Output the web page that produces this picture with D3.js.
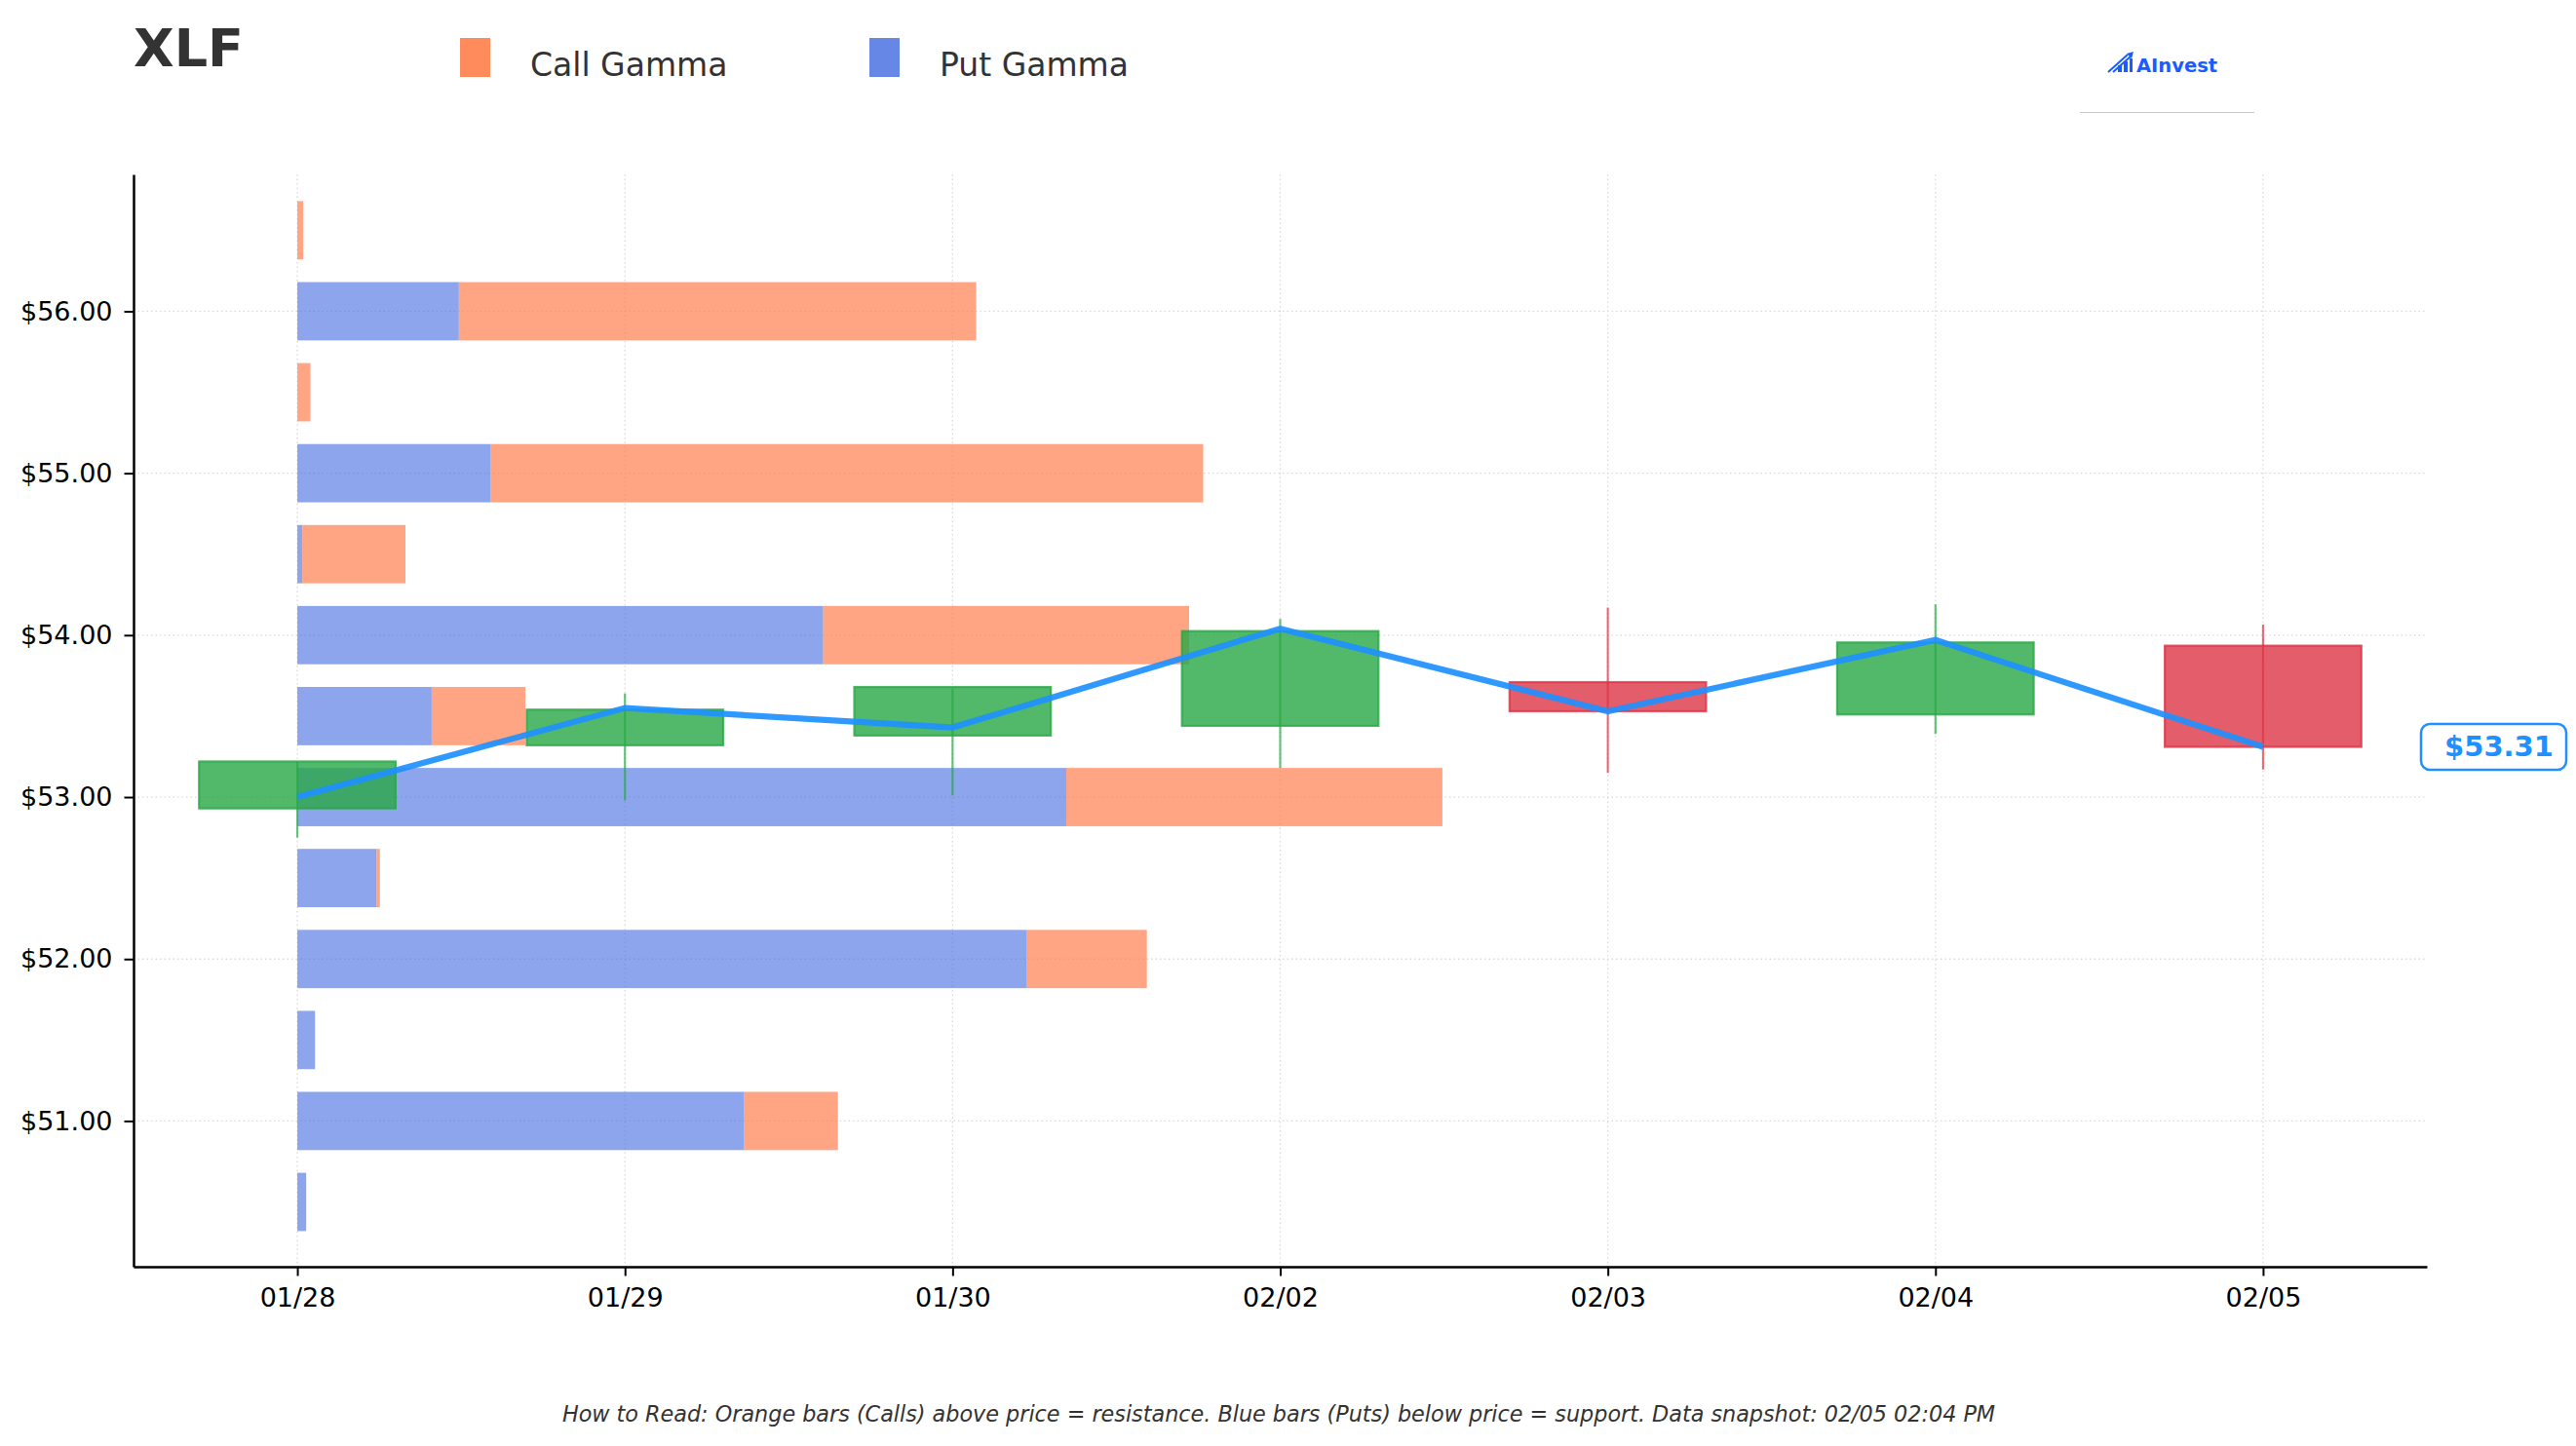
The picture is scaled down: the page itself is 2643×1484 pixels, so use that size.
<!DOCTYPE html>
<html>
<head>
<meta charset="utf-8">
<script src="https://cdn.jsdelivr.net/npm/d3@7"></script>
<style>
  html, body { margin: 0; padding: 0; background: #fff; }
  svg { display: block; font-family: "DejaVu Sans", sans-serif; }
</style>
</head>
<body>
<svg id="chart" width="2643" height="1484"></svg>
<script>
// ---------- data ----------
const ticker = "XLF";
const dates = ["01/28", "01/29", "01/30", "02/02", "02/03", "02/04", "02/05"];
const openP  = [52.93, 53.32, 53.38, 53.44, 53.71, 53.51, 53.935];
const closeP = [53.22, 53.54, 53.68, 54.025, 53.53, 53.955, 53.31];
const highP  = [53.22, 53.64, 53.67, 54.10, 54.17, 54.19, 54.065];
const lowP   = [52.75, 52.98, 53.01, 53.18, 53.15, 53.39, 53.17];
const priceLine = [53.00, 53.55, 53.43, 54.04, 53.53, 53.97, 53.31];
const currentPrice = 53.31;

const strikes   = [56.5, 56.0, 55.5, 55.0, 54.5, 54.0, 53.5, 53.0, 52.5, 52.0, 51.5, 51.0, 50.5];
const putGamma  = [0, 49.3, 0, 58.9, 1.5, 160.5, 41.0, 234.7, 24.2, 222.7, 5.4, 136.4, 2.7];
const callGamma = [1.8, 157.9, 4.0, 217.6, 31.5, 111.7, 28.6, 114.8, 1.0, 36.6, 0, 28.6, 0];

const yTicks = [51, 52, 53, 54, 55, 56];
const legendLabels = ["Call Gamma", "Put Gamma"];
const footer = "How to Read: Orange bars (Calls) above price = resistance. Blue bars (Puts) below price = support. Data snapshot: 02/05 02:04 PM";

(function () {
// ---------- layout ----------
const svg = d3.select("#chart");
const pl = 137, pr = 2490, pt = 179, pb = 1300;

const x = d3.scaleLinear().domain([-0.5, dates.length - 0.5]).range([pl, pr]);
const y = d3.scaleLinear().domain([50.10, 56.845]).range([pb, pt]);
const g2x = d3.scaleLinear().domain([0, 100]).range([0, 1]); // gamma -> day-index units
const barHalf = 0.18;

const callCol = "#FF7F50", putCol = "#4169E1";
const upCol = "#28a745", downCol = "#dc3545", lineCol = "#1E90FF";

// grid
const grid = svg.append("g");
grid.selectAll("line.gx").data(dates).join("line")
  .attr("x1", (d, i) => x(i)).attr("x2", (d, i) => x(i))
  .attr("y1", pt).attr("y2", pb)
  .attr("stroke", "#d9d9d9").attr("stroke-width", 1.3).attr("stroke-dasharray", "1.5,3");
grid.selectAll("line.gy").data(yTicks).join("line")
  .attr("x1", pl).attr("x2", pr)
  .attr("y1", d => y(d)).attr("y2", d => y(d))
  .attr("stroke", "#d9d9d9").attr("stroke-width", 1.3).attr("stroke-dasharray", "1.5,3");

// gamma bars
const bars = svg.append("g");
const x0 = x(0);
bars.selectAll("rect.put").data(strikes).join("rect")
  .attr("x", x0)
  .attr("y", d => y(d + barHalf))
  .attr("width", (d, i) => x(g2x(putGamma[i])) - x0)
  .attr("height", d => y(d - barHalf) - y(d + barHalf))
  .attr("fill", putCol).attr("fill-opacity", 0.6);
bars.selectAll("rect.call").data(strikes).join("rect")
  .attr("x", (d, i) => x(g2x(putGamma[i])))
  .attr("y", d => y(d + barHalf))
  .attr("width", (d, i) => x(g2x(putGamma[i] + callGamma[i])) - x(g2x(putGamma[i])))
  .attr("height", d => y(d - barHalf) - y(d + barHalf))
  .attr("fill", callCol).attr("fill-opacity", 0.7);

// candles
const candleHalf = 0.3;
const cg = svg.append("g");
dates.forEach((d, i) => {
  const col = closeP[i] >= openP[i] ? upCol : downCol;
  cg.append("line")
    .attr("x1", x(i)).attr("x2", x(i))
    .attr("y1", y(highP[i])).attr("y2", y(lowP[i]))
    .attr("stroke", col).attr("stroke-width", 2.2).attr("stroke-opacity", 0.7);
  const hi = Math.max(openP[i], closeP[i]), lo = Math.min(openP[i], closeP[i]);
  cg.append("rect")
    .attr("x", x(i - candleHalf)).attr("width", x(i + candleHalf) - x(i - candleHalf))
    .attr("y", y(hi)).attr("height", y(lo) - y(hi))
    .attr("fill", col).attr("fill-opacity", 0.8)
    .attr("stroke", col).attr("stroke-opacity", 0.8).attr("stroke-width", 2.2);
});

// price line
svg.append("path")
  .datum(priceLine)
  .attr("d", d3.line().x((d, i) => x(i)).y(d => y(d)))
  .attr("fill", "none").attr("stroke", lineCol).attr("stroke-width", 6.2)
  .attr("stroke-opacity", 0.92).attr("stroke-linejoin", "miter");

// axes
const yAxis = svg.append("g").attr("transform", `translate(${pl},0)`)
  .call(d3.axisLeft(y).tickValues(yTicks).tickFormat(d => "$" + d3.format(".2f")(d))
    .tickSize(9.5).tickSizeOuter(0).tickPadding(12));
const xAxis = svg.append("g").attr("transform", `translate(0,${pb})`)
  .call(d3.axisBottom(x).tickValues(d3.range(dates.length)).tickFormat(i => dates[i])
    .tickSize(9.5).tickSizeOuter(0).tickPadding(12));
[yAxis, xAxis].forEach(a => {
  a.select(".domain").attr("stroke", "#000").attr("stroke-width", 2.5);
  a.selectAll(".tick line").attr("stroke", "#000").attr("stroke-width", 2);
  a.selectAll(".tick text").attr("font-size", 27).attr("fill", "#000")
    .attr("font-family", "DejaVu Sans");
});

// current price label
const py = y(currentPrice);
svg.append("rect").attr("x", 2484).attr("y", py - 23.5).attr("width", 149).attr("height", 47)
  .attr("rx", 9).attr("fill", "#fff").attr("stroke", lineCol).attr("stroke-width", 2.5);
svg.append("text").attr("x", 2564).attr("y", py + 9)
  .attr("text-anchor", "middle").attr("font-size", 29).attr("font-weight", "bold")
  .attr("fill", lineCol).text("$" + currentPrice.toFixed(2));

// title
svg.append("text").attr("x", 137).attr("y", 68).attr("font-size", 54).attr("font-weight", "bold")
  .attr("fill", "#333").text(ticker);

// legend
const legCols = ["#FF8A5C", "#6787E7"];
const legX = [472, 892];
legendLabels.forEach((l, i) => {
  svg.append("rect").attr("x", legX[i]).attr("y", 39).attr("width", 31).attr("height", 40)
    .attr("fill", legCols[i]);
  svg.append("text").attr("x", legX[i] + 72).attr("y", 78).attr("font-size", 33)
    .attr("fill", "#333").text(l);
});

// logo
const logo = svg.append("g").attr("fill", "#1a5cff").attr("stroke", "#1a5cff");
logo.append("path").attr("d", "M2163,74 L2183,56").attr("stroke-width", 2).attr("fill", "none");
logo.append("path").attr("d", "M2168,74 L2187,57").attr("stroke-width", 2).attr("fill", "none");
logo.append("path").attr("d", "M2182,55 L2189,53 L2187,60 Z").attr("stroke", "none");
logo.append("rect").attr("x", 2173).attr("y", 67).attr("width", 4).attr("height", 7).attr("stroke", "none");
logo.append("rect").attr("x", 2179).attr("y", 63).attr("width", 4).attr("height", 11).attr("stroke", "none");
logo.append("rect").attr("x", 2185).attr("y", 60).attr("width", 3).attr("height", 14).attr("stroke", "none");
svg.append("text").attr("x", 2192).attr("y", 74).attr("font-size", 19.5).attr("font-weight", "bold")
  .attr("fill", "#1a5cff").attr("font-family", "DejaVu Sans").text("AInvest");
svg.append("line").attr("x1", 2134).attr("x2", 2313).attr("y1", 115.5).attr("y2", 115.5)
  .attr("stroke", "#c8c8c8").attr("stroke-width", 1.2);

// footer
svg.append("text").attr("x", 1312).attr("y", 1459).attr("text-anchor", "middle")
  .attr("font-size", 22.3).attr("font-style", "italic").attr("fill", "#333").text(footer);
})();
</script>
</body>
</html>
